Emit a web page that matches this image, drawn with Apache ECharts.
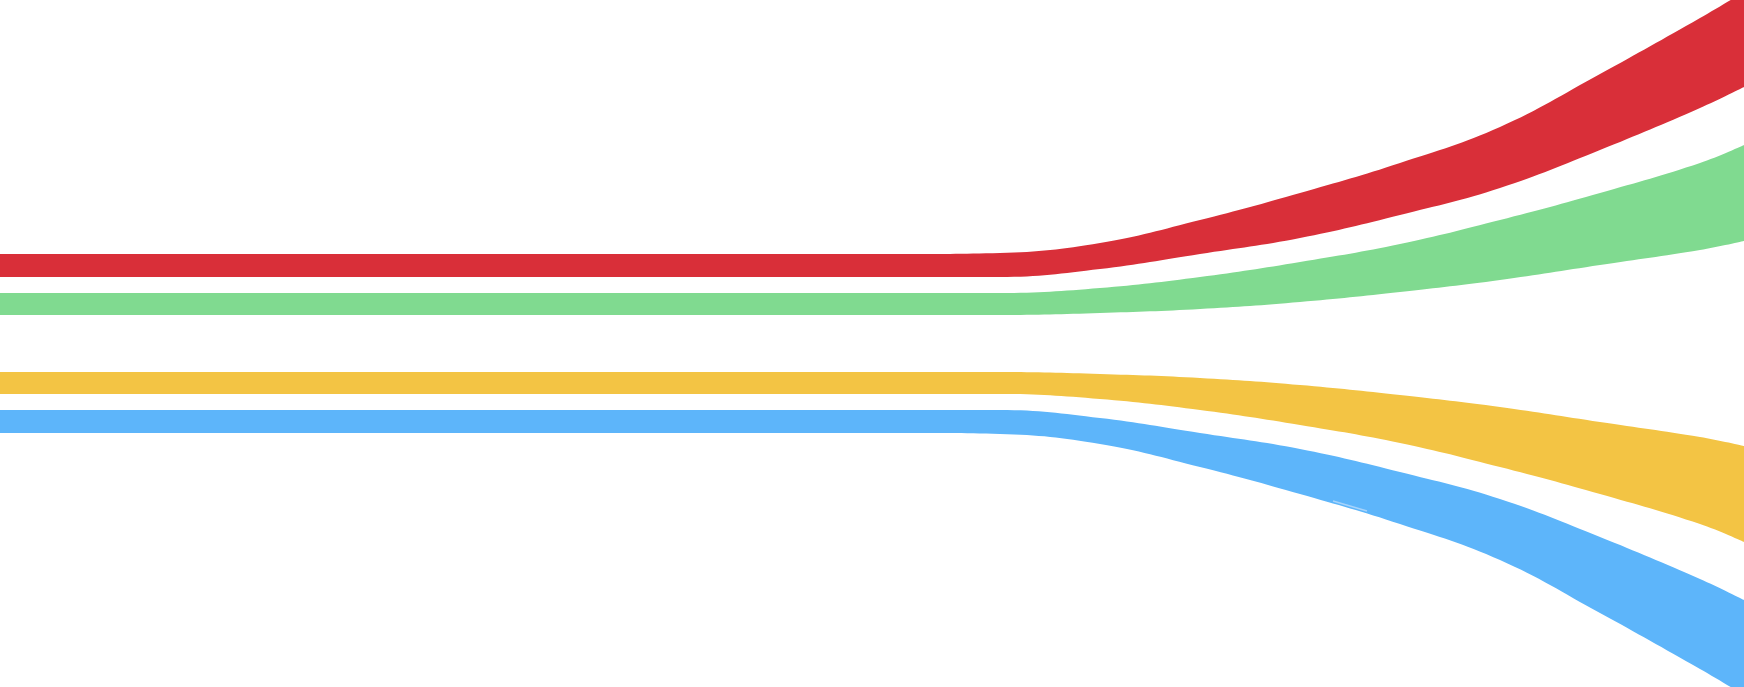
<!DOCTYPE html>
<html>
<head>
<meta charset="utf-8">
<style>
  html, body { margin: 0; padding: 0; background: #ffffff; }
  #chart { width: 1744px; height: 687px; }
</style>
<script src="https://cdn.jsdelivr.net/npm/echarts@6/dist/echarts.min.js"></script>
</head>
<body>
<div id="chart"></div>
<script>
// Sample positions along the horizontal axis
const xs = [0, 500, 900, 1000, 1100, 1200, 1300, 1400, 1500, 1600, 1700, 1744];

// Edge positions of each ribbon (vertical value, measured downward)
const redTop      = [254, 254, 254, 253, 243, 220, 193, 163, 127, 74, 18, -8];
const redBottom   = [277, 277, 277, 277, 269, 254, 238, 215, 188, 150, 108, 87];
const greenTop    = [293, 293, 293, 293, 288, 277, 262, 244, 220, 193, 163, 145];
const greenBottom = [315, 315, 315, 315, 313, 309, 302, 292, 280, 265, 250, 241];
const yellowTop   = [372, 372, 372, 372, 374, 378, 385, 395, 407, 422, 437, 446];
const yellowBottom= [394, 394, 394, 394, 399, 410, 425, 443, 467, 494, 524, 542];
const blueTop     = [410, 410, 410, 410, 418, 433, 449, 472, 499, 537, 579, 600];
const blueBottom  = [433, 433, 433, 434, 444, 467, 494, 524, 560, 613, 669, 695];

// Faint light-blue glint along the lower edge of the blue ribbon
const glintX = [1333, 1350, 1367];
const glintY = [501, 506, 511];

const ribbons = [
  { name: 'red',    top: redTop,    bottom: redBottom,    color: '#d92f39' },
  { name: 'green',  top: greenTop,  bottom: greenBottom,  color: '#80da90' },
  { name: 'yellow', top: yellowTop, bottom: yellowBottom, color: '#f3c444' },
  { name: 'blue',   top: blueTop,   bottom: blueBottom,   color: '#5db5fa' }
];

const common = {
  type: 'line',
  stackStrategy: 'all',
  smooth: 0.4,
  showSymbol: false,
  symbol: 'none',
  silent: true,
  animation: false
};

const series = [];
ribbons.forEach(r => {
  series.push(Object.assign({}, common, {
    name: r.name + '-base',
    stack: r.name,
    data: xs.map((x, i) => [x, r.top[i]]),
    lineStyle: { width: 0, opacity: 0 }
  }));
  series.push(Object.assign({}, common, {
    name: r.name,
    stack: r.name,
    data: xs.map((x, i) => [x, r.bottom[i] - r.top[i]]),
    lineStyle: { width: 0, opacity: 0 },
    areaStyle: { color: r.color, opacity: 1 }
  }));
});

series.push({
  type: 'line',
  name: 'glint',
  data: glintX.map((x, i) => [x, glintY[i]]),
  smooth: true,
  showSymbol: false,
  symbol: 'none',
  silent: true,
  animation: false,
  lineStyle: { color: '#a6d3fb', width: 1.5 }
});

const chart = echarts.init(document.getElementById('chart'), null, { renderer: 'canvas' });
chart.setOption({
  animation: false,
  backgroundColor: '#ffffff',
  grid: { left: 0, right: 0, top: 0, bottom: 0, containLabel: false },
  // time-type axis keeps the horizontal positions proportional while stacking happens vertically
  xAxis: { type: 'time', min: 0, max: 1744, show: false },
  yAxis: { type: 'value', min: 0, max: 687, inverse: true, show: false },
  tooltip: { show: false },
  series: series
});
</script>
</body>
</html>
